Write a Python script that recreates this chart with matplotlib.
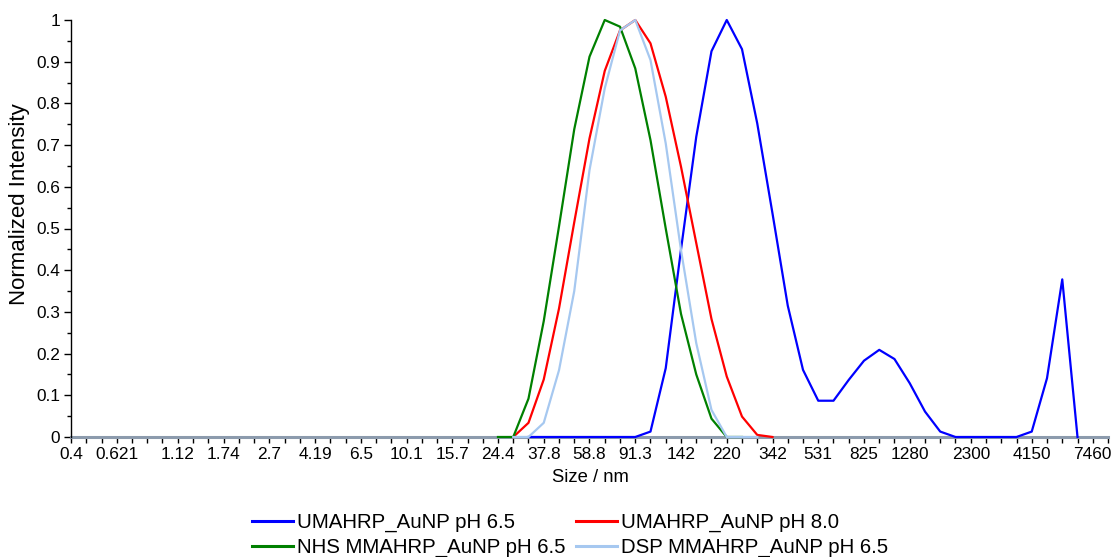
import matplotlib
matplotlib.use("Agg")
import matplotlib.pyplot as plt
import numpy as np

plt.rcParams['font.family'] = ['Liberation Sans', 'DejaVu Sans']

# ===== DATA =====
# DLS size bins (nm), bin 0 .. 68
size_bins = [0.4, 0.4632, 0.5365, 0.6213, 0.7195, 0.8332, 0.9649, 1.117, 1.294, 1.499,
             1.736, 2.010, 2.328, 2.696, 3.122, 3.615, 4.187, 4.849, 5.615, 6.503,
             7.531, 8.721, 10.10, 11.70, 13.54, 15.69, 18.17, 21.04, 24.36, 28.21,
             32.67, 37.84, 43.82, 50.75, 58.77, 68.06, 78.82, 91.28, 105.7, 122.4,
             141.8, 164.2, 190.1, 220.2, 255.0, 295.3, 342.0, 396.1, 458.7, 531.2,
             615.1, 712.4, 825.0, 955.4, 1106, 1281, 1484, 1718, 1990, 2305,
             2669, 3091, 3580, 4145, 4801, 5560, 6439, 7456, 8635]

# bins that carry a tick label, and the label text
label_bins = [0, 3, 7, 10, 13, 16, 19, 22, 25, 28, 31, 34, 37, 40, 43, 46, 49, 52, 55, 59, 63, 67]
label_text = ["0.4", "0.621", "1.12", "1.74", "2.7", "4.19", "6.5", "10.1", "15.7", "24.4",
              "37.8", "58.8", "91.3", "142", "220", "342", "531", "825", "1280", "2300",
              "4150", "7460"]

# series: first bin index + normalized intensities
uma65_start = 30
uma65 = [0, 0, 0, 0, 0, 0, 0, 0, 0.013, 0.165, 0.45, 0.72, 0.925, 1.0, 0.93, 0.752,
         0.536, 0.315, 0.161, 0.087, 0.087, 0.137, 0.183, 0.209, 0.187, 0.129, 0.061,
         0.013, 0, 0, 0, 0, 0, 0.013, 0.141, 0.378, 0]

uma80_start = 29
uma80 = [0, 0.034, 0.138, 0.308, 0.515, 0.716, 0.878, 0.975, 1.0, 0.944, 0.816, 0.648,
         0.465, 0.283, 0.145, 0.049, 0.005, 0]

nhs_start = 28
nhs = [0, 0, 0.092, 0.278, 0.505, 0.738, 0.912, 1.0, 0.984, 0.884, 0.712, 0.50, 0.295,
       0.15, 0.044, 0, 0]

dsp_start = 29
dsp = [0, 0, 0.034, 0.16, 0.35, 0.64, 0.836, 0.975, 1.0, 0.904, 0.704, 0.448, 0.225,
       0.065, 0, 0, 0]

names = ["UMAHRP_AuNP pH 6.5", "UMAHRP_AuNP pH 8.0",
         "NHS MMAHRP_AuNP pH 6.5", "DSP MMAHRP_AuNP pH 6.5"]
colors = ["#0000ff", "#ff0000", "#008000", "#a6c8f0"]

# ===== PLOT =====
W, H = 1117, 557
fig = plt.figure(figsize=(W / 100, H / 100), dpi=100)
ax = fig.add_axes([71 / W, 1 - 437 / H, (1108 - 71) / W, (437 - 20) / H])

series = [(uma65_start, uma65), (uma80_start, uma80), (nhs_start, nhs), (dsp_start, dsp)]
lines = []
for (start, vals), name, col in zip(series, names, colors):
    xs = size_bins[start:start + len(vals)]
    ln, = ax.plot(xs, vals, color=col, lw=1.6, label=name, clip_on=False, zorder=3)
    lines.append(ln)

ax.set_xscale('log')
ax.set_xlim(size_bins[0], size_bins[-1])
ax.set_ylim(0, 1)

# x ticks: one per bin, labels only on some
ax.xaxis.set_minor_locator(matplotlib.ticker.NullLocator())
ax.set_xticks(size_bins)
lbls = [""] * len(size_bins)
for i, t in zip(label_bins, label_text):
    lbls[i] = t
ax.set_xticklabels(lbls)
ax.tick_params(axis='x', length=4, width=1, color='black', labelsize=12.4, pad=3)

# y ticks
ax.set_yticks(np.arange(0, 1.01, 0.1))
ax.set_yticklabels(["0", "0.1", "0.2", "0.3", "0.4", "0.5", "0.6", "0.7", "0.8", "0.9", "1"])
ax.set_yticks(np.arange(0.05, 1.0, 0.1), minor=True)
ax.tick_params(axis='y', which='major', length=5, width=1, labelsize=12.4, pad=3)
ax.tick_params(axis='y', which='minor', length=3, width=1)

for s in ['top', 'right']:
    ax.spines[s].set_visible(False)
ax.spines['left'].set_linewidth(1)
ax.spines['bottom'].set_color('#8c9bad')
ax.spines['bottom'].set_linewidth(2.2)
ax.spines['bottom'].set_zorder(2)

# axis titles
fig.text(590 / W, 1 - 478 / H, "Size / nm", fontsize=13.3, ha='center', va='center')
fig.text(20 / W, 1 - 204 / H, "Normalized Intensity", fontsize=16, rotation=90,
         ha='center', va='center')

order = [0, 2, 1, 3]
leg = fig.legend([lines[i] for i in order], [names[i] for i in order],
                 loc='center', bbox_to_anchor=(570 / W, 1 - 535 / H), ncol=2,
                 frameon=False, fontsize=14.7, handlelength=2.0, handletextpad=0.22,
                 columnspacing=0.5, labelspacing=0.28)
for l in leg.get_lines():
    l.set_linewidth(2.2)

fig.savefig("out.png", dpi=100)
